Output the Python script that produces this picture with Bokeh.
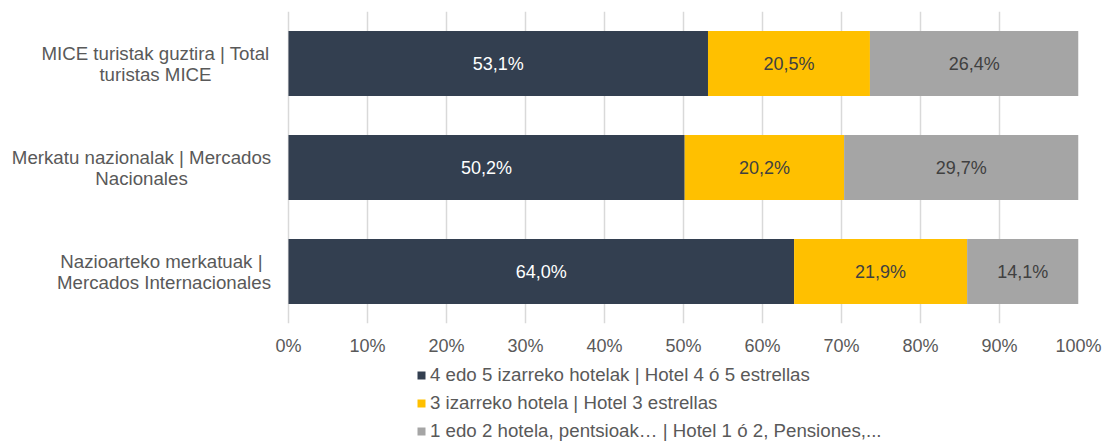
from bokeh.plotting import figure
from bokeh.layouts import column
from bokeh.models import (ColumnDataSource, LabelSet, Legend, LegendItem, Range1d,
                          FixedTicker, PrintfTickFormatter)
from bokeh.core.properties import value
from bokeh.embed import file_html
from bokeh.resources import INLINE

# ---- data ----
categories = [
    "MICE turistak guztira | Total\nturistas MICE",
    "Merkatu nazionalak | Mercados\nNacionales",
    "Nazioarteko merkatuak  |\nMercados Internacionales",
]
series_names = [
    "4 edo 5 izarreko hotelak | Hotel 4 ó 5 estrellas",
    "3 izarreko hotela | Hotel 3 estrellas",
    "1 edo 2 hotela, pentsioak… | Hotel 1 ó 2, Pensiones,...",
]
hotel_4_5 = [53.1, 50.2, 64.0]
hotel_3 = [20.5, 20.2, 21.9]
hotel_1_2 = [26.4, 29.7, 14.1]
x_ticks = [0, 10, 20, 30, 40, 50, 60, 70, 80, 90, 100]

# ---- styling / layout ----
colors = ["#333F50", "#FFC000", "#A5A5A5"]
label_colors = ["#FFFFFF", "#404040", "#404040"]
FONT = "Liberation Sans"
W = 1104
TOP_H, LEG_H = 360, 81
PLOT_LEFT_PX, PLOT_RIGHT_PX = 288, 1078      # pixel positions of 0% and 100%
FRAME_TOP, FRAME_BOTTOM = 11, 323
CAT_LABEL_CENTER_PX = [155, 141, 163.5]       # centre of each wrapped category label

n = len(categories)
ypos = [n - 1 - i for i in range(n)]
series = [hotel_4_5, hotel_3, hotel_1_2]
totals = [sum(v[i] for v in series) for i in range(n)]
norm = [[v[i] / totals[i] * 100 for i in range(n)] for v in series]
keys = ["s0", "s1", "s2"]

px_per_unit = (PLOT_RIGHT_PX - PLOT_LEFT_PX) / 100.0
x_start = -PLOT_LEFT_PX / px_per_unit

data = {"y": ypos}
for k, v in zip(keys, norm):
    data[k] = v
source = ColumnDataSource(data)

p = figure(width=W, height=TOP_H, output_backend="svg", toolbar_location=None,
           x_range=Range1d(x_start, 100), y_range=Range1d(-0.5, n - 0.5),
           min_border_left=0, min_border_right=W - PLOT_RIGHT_PX,
           min_border_top=FRAME_TOP, min_border_bottom=TOP_H - FRAME_BOTTOM)
p.outline_line_color = None

renderers = p.hbar_stack(keys, y="y", height=0.625, color=colors, line_color=None,
                         source=source)

# category labels (centred lines, like the original)
cat_src = ColumnDataSource({
    "x": [(c - PLOT_LEFT_PX) / px_per_unit for c in CAT_LABEL_CENTER_PX],
    "y": ypos, "t": categories})
p.text(x="x", y="y", text="t", source=cat_src, text_align="center",
       text_baseline="middle", text_font_size="18.7px", text_font=value(FONT),
       text_color="#595959", text_line_height=1.0)

# value labels
for j in range(3):
    left = [sum(norm[k][i] for k in range(j)) for i in range(n)]
    mid = [left[i] + norm[j][i] / 2 for i in range(n)]
    txt = [("%.1f%%" % series[j][i]).replace(".", ",") for i in range(n)]
    ls = ColumnDataSource({"x": mid, "y": ypos, "t": txt})
    p.add_layout(LabelSet(x="x", y="y", text="t", source=ls, text_align="center",
                          text_baseline="middle", text_font_size="18px",
                          text_font=value(FONT), text_color=label_colors[j]))

# axes
p.xaxis.ticker = FixedTicker(ticks=x_ticks)
p.xaxis.formatter = PrintfTickFormatter(format="%d%%")
p.xaxis.axis_line_color = None
p.xaxis.major_tick_line_color = None
p.xaxis.minor_tick_line_color = None
p.xaxis.major_label_text_font_size = "18px"
p.xaxis.major_label_text_font = FONT
p.xaxis.major_label_text_color = "#595959"
p.xaxis.major_label_standoff = 6
p.yaxis.visible = False

p.xgrid.ticker = FixedTicker(ticks=x_ticks)
p.xgrid.grid_line_color = "#D9D9D9"
p.xgrid.grid_line_width = 1.5
p.ygrid.grid_line_color = None

# ---- legend in its own strip below ----
pl = figure(width=W, height=LEG_H, output_backend="svg", toolbar_location=None,
            x_range=Range1d(0, 1), y_range=Range1d(0, 1),
            x_axis_location=None, y_axis_location=None,
            min_border_left=0, min_border_right=0, min_border_top=0, min_border_bottom=0)
pl.outline_line_color = None
pl.xgrid.visible = False
pl.ygrid.visible = False
# zero-size proxy glyphs, used only for the legend swatches
leg_renderers = [pl.hbar(y=[0], left=[0], right=[0], height=0, color=c, line_color=None)
                 for c in colors]

legend = Legend(items=[LegendItem(label=nm, renderers=[r]) for nm, r in zip(series_names, leg_renderers)],
                location=(416, -1), orientation="vertical",
                glyph_width=10, glyph_height=10, label_height=18, spacing=6,
                label_standoff=4, padding=0, margin=0,
                label_text_font_size="18.7px", label_text_font=FONT,
                label_text_color="#595959", border_line_color=None,
                background_fill_alpha=0)
pl.add_layout(legend)

layout = column(p, pl, spacing=0)
open("out.html", "w").write(file_html(layout, INLINE))
